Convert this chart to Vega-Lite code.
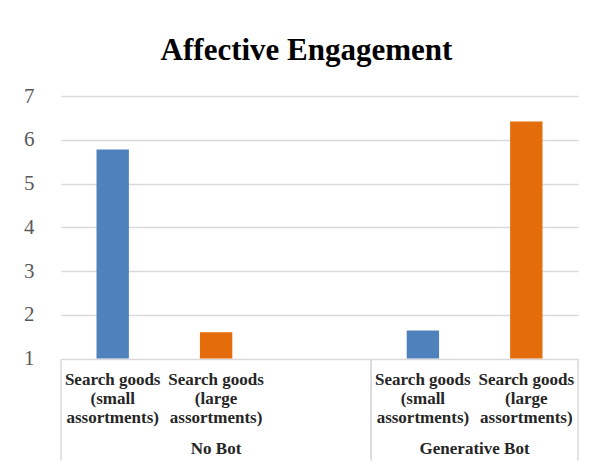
{
  "$schema": "https://vega.github.io/schema/vega-lite/v6.json",
  "padding": {"left": 23, "top": 35, "right": 13, "bottom": 0},
  "config": {"view": {"stroke": null}, "font": "Liberation Serif"},
  "datasets": {
    "bars": [
      {"slot": "1", "size": "small", "value": 5.78},
      {"slot": "2", "size": "large", "value": 1.6},
      {"slot": "4", "size": "small", "value": 1.64},
      {"slot": "5", "size": "large", "value": 6.42}
    ],
    "cats": [
      {"slot": "1", "row": "cat", "text": "Search goods\n(small\nassortments)"},
      {"slot": "2", "row": "cat", "text": "Search goods\n(large\nassortments)"},
      {"slot": "3", "row": "cat", "text": ""},
      {"slot": "4", "row": "cat", "text": "Search goods\n(small\nassortments)"},
      {"slot": "5", "row": "cat", "text": "Search goods\n(large\nassortments)"}
    ],
    "groups": [
      {"group": "No Bot", "first": "1", "last": "3", "mid": "2", "row": "grp"},
      {"group": "Generative Bot", "first": "4", "last": "5", "mid": "5", "row": "grp"}
    ]
  },
  "spacing": 0,
  "bounds": "flush",
  "resolve": {"scale": {"x": "independent"}},
  "vconcat": [
    {
      "width": 517,
      "height": 262.5,
      "title": {"text": "Affective Engagement", "fontSize": 31, "font": "Liberation Serif", "fontWeight": "bold", "color": "#000000", "anchor": "middle", "frame": "group", "dx": -13, "offset": 18},
      "data": {"name": "bars"},
      "mark": {"type": "bar"},
      "encoding": {
        "x": {"field": "slot", "type": "nominal", "scale": {"domain": ["1", "2", "3", "4", "5"], "paddingInner": 0.687, "paddingOuter": 0.3435}, "axis": null},
        "y": {"field": "value", "type": "quantitative", "scale": {"domain": [1, 7], "nice": false, "zero": false},
          "axis": {"values": [1, 2, 3, 4, 5, 6, 7], "title": null, "domain": false, "ticks": false, "tickSize": 0, "labelPadding": 27, "labelFontSize": 21, "labelFont": "Liberation Serif", "labelColor": "#595959", "gridColor": "#d9d9d9", "gridWidth": 1.5}},
        "y2": {"datum": 1},
        "color": {"field": "size", "type": "nominal", "scale": {"domain": ["small", "large"], "range": ["#4F81BD", "#E46C0A"]}, "legend": null}
      }
    },
    {
      "width": 517,
      "height": 101.5,
      "layer": [
        {
          "data": {"name": "groups"},
          "mark": {"type": "rule", "color": "#d9d9d9", "strokeWidth": 1.5},
          "encoding": {
            "x": {"field": "first", "type": "nominal", "bandPosition": 0, "scale": {"domain": ["1", "2", "3", "4", "5"], "paddingInner": 0, "paddingOuter": 0}, "axis": null}
          }
        },
        {
          "data": {"name": "groups"},
          "mark": {"type": "rule", "color": "#d9d9d9", "strokeWidth": 1.5},
          "encoding": {
            "x": {"field": "last", "type": "nominal", "bandPosition": 1, "axis": null}
          }
        },
        {
          "data": {"name": "cats"},
          "mark": {"type": "text", "font": "Liberation Serif", "fontWeight": "bold", "fontSize": 17, "lineHeight": 19, "lineBreak": "\n", "align": "center", "baseline": "alphabetic", "color": "#262626", "dy": 6.5},
          "encoding": {
            "x": {"field": "slot", "type": "nominal", "bandPosition": 0.5, "axis": null},
            "y": {"field": "row", "type": "nominal", "scale": {"type": "point", "domain": ["cat", "grp"], "padding": 0.3}, "axis": null},
            "text": {"field": "text"}
          }
        },
        {
          "data": {"name": "groups"},
          "transform": [{"filter": "datum.group == 'No Bot'"}],
          "mark": {"type": "text", "font": "Liberation Serif", "fontWeight": "bold", "fontSize": 17, "align": "center", "baseline": "alphabetic", "color": "#262626", "dy": 13},
          "encoding": {
            "x": {"field": "mid", "type": "nominal", "bandPosition": 0.5, "axis": null},
            "y": {"field": "row", "type": "nominal", "axis": null},
            "text": {"field": "group"}
          }
        },
        {
          "data": {"name": "groups"},
          "transform": [{"filter": "datum.group == 'Generative Bot'"}],
          "mark": {"type": "text", "font": "Liberation Serif", "fontWeight": "bold", "fontSize": 17, "align": "center", "baseline": "alphabetic", "color": "#262626", "dy": 13},
          "encoding": {
            "x": {"field": "mid", "type": "nominal", "bandPosition": 0, "axis": null},
            "y": {"field": "row", "type": "nominal", "axis": null},
            "text": {"field": "group"}
          }
        }
      ]
    }
  ]
}
